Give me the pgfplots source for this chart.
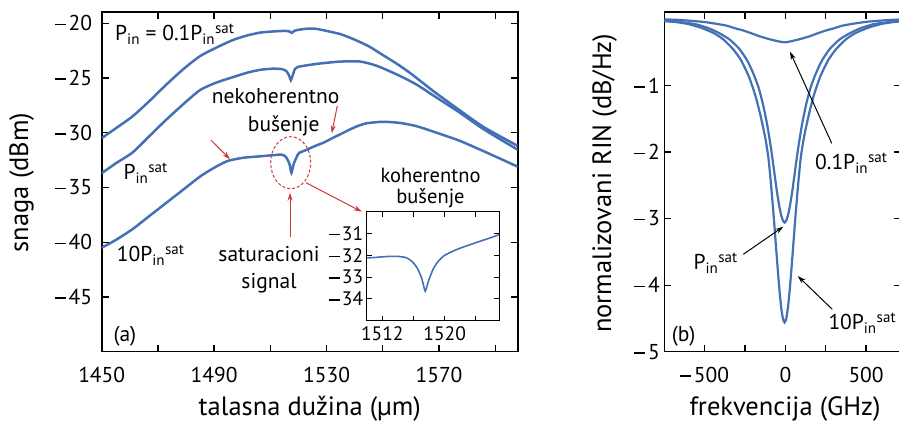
\documentclass[border=0pt]{standalone}
\usepackage{fontspec}
\setmainfont{PT Sans}
\usepackage{pgfplots}
\pgfplotsset{compat=1.18}
\usetikzlibrary{arrows.meta}
\definecolor{cblue}{RGB}{68,112,182}
\definecolor{cred}{RGB}{205,55,55}
\newcommand{\Pins}{P\textsubscript{in}\textsuperscript{sat}}
\newcommand{\fs}{\fontsize{21.5}{25}\selectfont}
\newcommand{\fk}{\fontsize{20.5}{24}\selectfont}
\newcommand{\fl}{\fontsize{26.5}{30}\selectfont}
\newcommand{\fsi}{\fontsize{19.5}{23}\selectfont}
\newcommand{\mn}{\raisebox{0.26em}{\rule{0.52em}{0.07em}}\hspace{0.12em}}

\pgfplotstableread{
x y
1450 -30.5
1455 -29.6
1461 -28.5
1467 -27.1
1473 -25.6
1479 -24.2
1485 -23.0
1491 -22.2
1497 -21.5
1502 -21.1
1506.5 -20.85
1511 -20.75
1515 -20.7
1516.8 -20.75
1517.6 -20.88
1518.5 -20.7
1520 -20.6
1523 -20.5
1526 -20.5
1530 -20.7
1535 -21.0
1540 -21.5
1545 -22.1
1550 -22.9
1555 -23.7
1560 -24.6
1568 -26.2
1576 -27.7
1586 -29.5
1598 -31.2
}\tabA

\pgfplotstableread{
x y
1450 -33.7
1455 -32.8
1461 -31.8
1467 -30.3
1473 -28.8
1479 -27.4
1485 -26.1
1491 -25.4
1497 -24.9
1502 -24.5
1506.5 -24.25
1511 -24.15
1514.3 -24.2
1515.8 -24.4
1516.7 -24.8
1517.3 -25.2
1517.9 -24.8
1518.7 -24.2
1519.6 -24.0
1524 -23.8
1528.6 -23.65
1535 -23.5
1542 -23.5
1548 -23.9
1556 -24.8
1562 -25.6
1568 -26.6
1577 -28.1
1586 -29.7
1598 -31.55
}\tabB

\pgfplotstableread{
x y
1450 -40.5
1455 -39.8
1461 -38.8
1467 -37.6
1473 -36.4
1479 -35.2
1485 -34.0
1490 -33.2
1494.6 -32.6
1500 -32.3
1506.5 -32.15
1511 -32.05
1514 -32.0
1515.5 -32.2
1516.8 -32.85
1517.5 -33.65
1518.3 -32.85
1519.4 -32.2
1520.2 -31.85
1523 -31.55
1526 -31.2
1529 -30.9
1532 -30.5
1536 -30.0
1540 -29.5
1544 -29.15
1550 -29.0
1556 -29.1
1562 -29.4
1568 -29.9
1577 -30.7
1586 -31.7
1598 -33.1
}\tabC

\pgfplotstableread{
x y
1510 -32.12
1511 -32.1
1512 -32.07
1513 -32.05
1514 -32.05
1515 -32.1
1515.5 -32.2
1516 -32.35
1516.5 -32.6
1517 -33.0
1517.3 -33.4
1517.5 -33.65
1517.7 -33.45
1518 -33.1
1518.5 -32.65
1519 -32.35
1519.5 -32.15
1520 -32.0
1521 -31.82
1522 -31.67
1524 -31.42
1526 -31.18
1527 -31.05
}\tabIn

\pgfplotstableread{
x y
-765 -0.03
-685 -0.045
-605 -0.075
-525 -0.13
-445 -0.211
-385 -0.306
-325 -0.451
-275 -0.619
-225 -0.872
-185 -1.158
-155 -1.442
-125 -1.780
-105 -2.090
-90 -2.460
-75 -2.888
-65 -3.199
-55 -3.520
-45 -3.835
-35 -4.122
-25 -4.354
-15 -4.507
-5 -4.56
5 -4.507
15 -4.354
25 -4.122
35 -3.835
45 -3.520
55 -3.199
65 -2.888
80 -2.460
95 -2.090
115 -1.780
145 -1.442
175 -1.158
215 -0.872
265 -0.619
315 -0.451
375 -0.306
435 -0.211
515 -0.13
595 -0.075
675 -0.045
765 -0.03
}\tabR

\pgfplotstableread{
x y
-765 -0.025
-655 -0.045
-555 -0.08
-475 -0.14
-405 -0.22
-345 -0.31
-285 -0.45
-235 -0.63
-195 -0.84
-165 -1.04
-140 -1.27
-115 -1.56
-95 -1.85
-80 -2.10
-65 -2.37
-55 -2.55
-45 -2.71
-35 -2.85
-25 -2.96
-15 -3.03
-5 -3.06
5 -3.03
15 -2.96
25 -2.85
35 -2.71
45 -2.55
55 -2.37
70 -2.10
85 -1.85
105 -1.56
130 -1.27
155 -1.04
185 -0.84
225 -0.63
275 -0.45
335 -0.31
395 -0.22
465 -0.14
545 -0.08
645 -0.045
755 -0.025
}\tabS

\pgfplotstableread{
x y
-765 -0.005
-655 -0.015
-575 -0.03
-505 -0.045
-435 -0.07
-365 -0.10
-305 -0.145
-265 -0.17
-205 -0.22
-160 -0.26
-105 -0.30
-55 -0.33
-25 -0.345
-5 -0.35
15 -0.345
45 -0.33
95 -0.30
150 -0.26
195 -0.22
255 -0.17
295 -0.145
355 -0.10
425 -0.07
495 -0.045
565 -0.03
645 -0.015
755 -0.005
}\tabT

\pgfplotsset{
  myax/.style={
    scale only axis,
    anchor=south west,
    axis line style={line width=1.6pt},
    tick style={line width=1.3pt, black},
    major tick length=7pt,
    tick label style={font=\fs},
    /pgf/number format/assume math mode=true,
    clip=true,
  },
}

\begin{document}
\begin{tikzpicture}
\useasboundingbox (0,0) rectangle (899pt,423pt);
% left panel
\begin{axis}[myax,
  at={(101.7pt,71.3pt)}, width=416pt, height=339.4pt,
  xmin=1450, xmax=1598, ymin=-50, ymax=-19,
  xtick={1450,1470,...,1590},
  xticklabels={1450,,1490,,1530,,1570,},
  ytick={-45,-40,...,-20},
  yticklabels={\mn45,\mn40,\mn35,\mn30,\mn25,\mn20},
  xticklabel style={yshift=-12pt},
  yticklabel style={xshift=-6pt},
]
\addplot[cblue, line width=2.5pt, smooth, tension=0.4] table {\tabA};
\addplot[cblue, line width=2.5pt, smooth, tension=0.4] table {\tabB};
\addplot[cblue, line width=2.5pt, smooth, tension=0.4] table {\tabC};
\end{axis}
% inset
\begin{axis}[myax,
  at={(366.7pt,102.3pt)}, width=132.6pt, height=109pt,
  xmin=1510, xmax=1527, ymin=-35, ymax=-30,
  xtick={1512,1516,1520,1524},
  xticklabels={1512,,1520,},
  ytick={-34,-33,-32,-31},
  yticklabels={\mn34,\mn33,\mn32,\mn31},
  tick label style={font=\fsi},
  major tick length=5pt,
  axis line style={line width=1.3pt},
  tick style={line width=1pt, black},
  axis background/.style={fill=white},
  xticklabel style={yshift=-2pt},
]
\addplot[cblue, line width=1.6pt, smooth, tension=0.4] table {\tabIn};
\end{axis}
% right panel
\begin{axis}[myax,
  at={(664.3pt,71.3pt)}, width=236.5pt, height=339.4pt,
  xmin=-750, xmax=715, ymin=-5, ymax=0.1,
  xtick={-500,-250,0,250,500},
  xticklabels={\mn500,,0,,500},
  ytick={-5,-4,-3,-2,-1},
  yticklabels={\mn5,\mn4,\mn3,\mn2,\mn1},
  xticklabel style={yshift=-12pt},
  yticklabel style={xshift=-1pt},
]
\addplot[cblue, line width=2.2pt, smooth, tension=0.35] table {\tabT};
\addplot[cblue, line width=2.2pt, smooth, tension=0.35] table {\tabS};
\addplot[cblue, line width=2.2pt, smooth, tension=0.35] table {\tabR};
\end{axis}

% axis labels
\node[font=\fl, anchor=base] at (309.7pt,8pt) {talasna dužina (µm)};
\node[font=\fl, anchor=base] at (785pt,8pt) {frekvencija (GHz)};
\node[font=\fl, anchor=base, rotate=90] at (28pt,240.5pt) {snaga (dBm)};
\node[font=\fl, anchor=base, rotate=90] at (611pt,239.7pt) {normalizovani RIN (dB/Hz)};

% left annotations
\node[font=\fs, anchor=base west, inner sep=0pt] at (115pt,382.3pt) {P\textsubscript{in} = 0.1\Pins};
\node[font=\fs, anchor=base west, inner sep=0pt] at (123.3pt,243pt) {\Pins};
\node[font=\fs, anchor=base west, inner sep=0pt] at (116.7pt,161.3pt) {10\Pins};
\node[font=\fs, anchor=base, inner sep=0pt] at (275.7pt,319pt) {nekoherentno};
\node[font=\fs, anchor=base, inner sep=0pt] at (283.7pt,291.3pt) {bušenje};
\node[font=\fs, anchor=base, inner sep=0pt] at (269pt,161.3pt) {saturacioni};
\node[font=\fs, anchor=base, inner sep=0pt] at (269pt,134.7pt) {signal};
\node[font=\fk, anchor=base, inner sep=0pt] at (430.5pt,240pt) {koherentno};
\node[font=\fk, anchor=base, inner sep=0pt] at (430.5pt,219pt) {bušenje};
\node[font=\fs, anchor=base west, inner sep=0pt] at (113.3pt,81.3pt) {(a)};

\draw[cred, line width=1pt, -{Stealth[length=8pt,width=5pt]}] (211pt,283pt) -- (230pt,263.7pt);
\draw[cred, line width=1pt, -{Stealth[length=8pt,width=5pt]}] (337.3pt,317pt) -- (331.7pt,289.7pt);
\draw[cred, line width=1pt, -{Stealth[length=8pt,width=5pt]}] (290pt,186.3pt) -- (290pt,230.3pt);
\draw[cred, line width=1pt, -{Stealth[length=8pt,width=5pt]}] (306pt,240.3pt) -- (361.7pt,211.3pt);
\draw[cred, line width=1pt, dash pattern=on 3pt off 2pt] (290.7pt,260.3pt) ellipse [x radius=20pt, y radius=26pt];

% right annotations
\node[font=\fs, anchor=base west, inner sep=0pt] at (815pt,253pt) {0.1\Pins};
\node[font=\fs, anchor=base west, inner sep=0pt] at (693.3pt,153pt) {\Pins};
\node[font=\fs, anchor=base west, inner sep=0pt] at (828.3pt,93pt) {10\Pins};
\node[font=\fs, anchor=base west, inner sep=0pt] at (671.7pt,81.3pt) {(b)};
\draw[black, line width=1pt, -{Stealth[length=8pt,width=5pt]}] (831.7pt,279.7pt) -- (790pt,371.3pt);
\draw[black, line width=1pt, -{Stealth[length=8pt,width=5pt]}] (743.3pt,168.7pt) -- (783.3pt,196.3pt);
\draw[black, line width=1pt, -{Stealth[length=8pt,width=5pt]}] (832.3pt,113.7pt) -- (797.7pt,147pt);
\end{tikzpicture}
\end{document}
